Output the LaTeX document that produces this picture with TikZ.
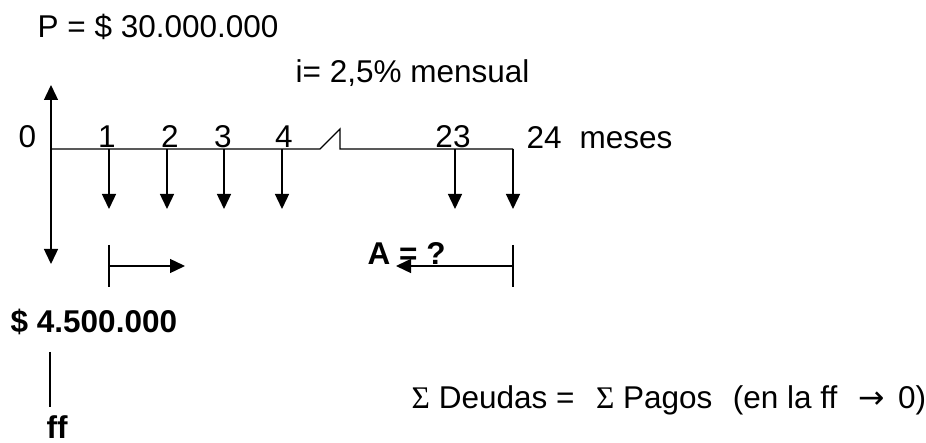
\documentclass[tikz,border=0pt]{standalone}
\usepackage{fontspec}
\setmainfont{Liberation Sans}
\newfontfamily\arrowfont{DejaVu Sans}
\newfontfamily\sigmafont{Liberation Serif}
\usetikzlibrary{arrows.meta}

\begin{document}
\begin{tikzpicture}[x=1pt, y=-1pt, >={Triangle[length=15pt,width=14pt]}, line width=1.4pt, font=\fontsize{31.5}{36}\selectfont, lbl/.style={anchor=base west, inner sep=0pt}, tick/.style={anchor=base, inner sep=0pt}, cash/.style={->}, bold/.style={font=\fontsize{31.5}{36}\selectfont\bfseries}]
\useasboundingbox (0,0) rectangle (926,443);
% amounts and rate
\node[lbl] (loan) at (37,38) {P = \$ 30.000.000};
\node[lbl] (rate) at (295,83) {i= 2,5\% mensual};
\node[lbl, bold] (down) at (10,333) {\$ 4.500.000};
\node[lbl, bold] (ff) at (46,438) {ff};
\node[lbl] (sum) at (411,408) {{\sigmafont Σ} Deudas =\ \ \hspace{4pt}{\sigmafont Σ} Pagos\ \ \hspace{3pt}(en la ff\ \ \hspace{4pt}{\arrowfont →}\hspace{4pt} 0)};
% time line
\node[lbl] (t0) at (18,148) {0};
\foreach \n/\x in {1/107,2/170,3/223,4/284,23/453}
  \node[tick] (t\n) at (\x,148) {\n};
\node[lbl] (t24) at (526,149) {24};
\node[lbl] (unit) at (579,149) {meses};
\coordinate (o) at (51,149);
\coordinate (up) at (51,85);
\coordinate (dn) at (51,264);
\coordinate (cutA) at (320,149);
\coordinate (cutB) at (340,129);
\coordinate (cutC) at (340,149);
\foreach \n/\x in {1/109,2/167,3/224,4/282,23/455,24/513} {
  \coordinate (p\n) at (\x,149);
  \coordinate (q\n) at (\x,209);
  \draw[cash] (p\n) -- (q\n);
}
\draw (o) -- (cutA) -- (cutB) -- (cutC) -- (p24);
\draw[cash] (o) -- (up);
\draw[cash] (o) -- (dn);
% payments A
\node[lbl, bold] (ann) at (367,265) {A = ?};
\coordinate (l1) at (109,245); \coordinate (l2) at (109,287); \coordinate (lm) at (109,266); \coordinate (le) at (185,266);
\coordinate (r1) at (513,245); \coordinate (r2) at (513,287); \coordinate (rm) at (513,266); \coordinate (re) at (396,266);
\draw (l1) -- (l2);
\draw[cash] (lm) -- (le);
\draw (r1) -- (r2);
\draw[cash] (rm) -- (re);
% ff line
\coordinate (f1) at (50,352); \coordinate (f2) at (50,407);
\draw (f1) -- (f2);
\end{tikzpicture}
\end{document}
